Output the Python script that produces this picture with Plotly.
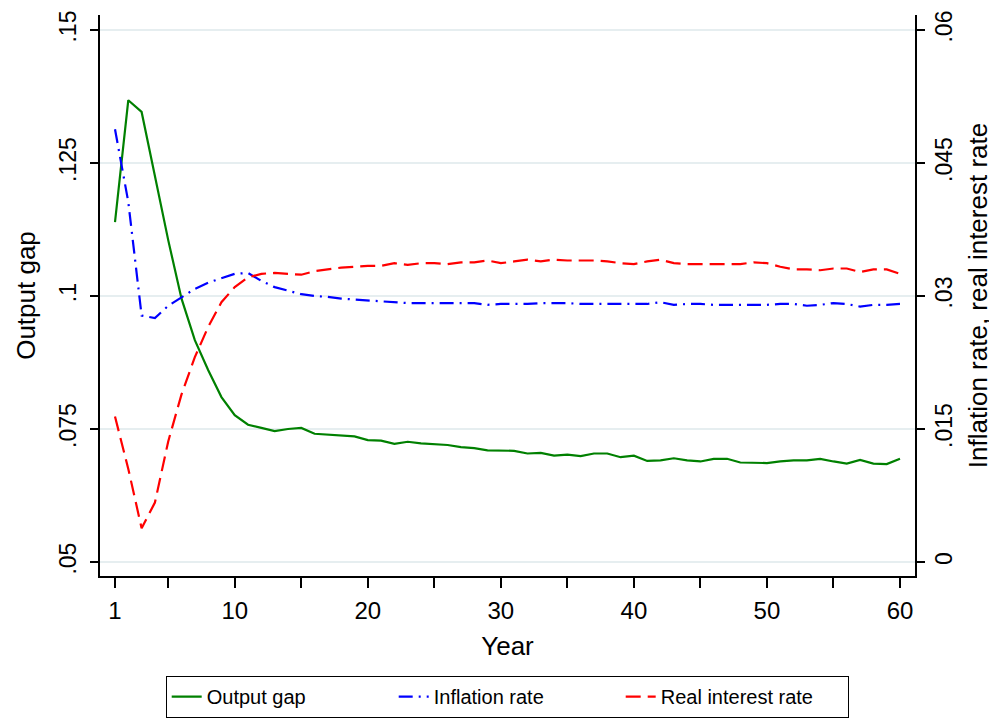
import plotly.graph_objects as go

years = list(range(1, 61))

output_gap = [
    .1139, .1368, .1346, .1222, .1105, .0995, .0917, .0861, .0810, .0776,
    .0758, .0752, .0746, .0750, .0752, .0741, .0739, .0737, .0736, .0729,
    .0728, .0722, .0726, .0723, .0721, .0720, .0716, .0714, .0710, .0710,
    .0709, .0704, .0705, .0700, .0702, .0699, .0704, .0704, .0697, .0700,
    .0690, .0691, .0695, .0691, .0689, .0694, .0694, .0687, .0686, .0686,
    .0689, .0691, .0691, .0694, .0689, .0685, .0692, .0685, .0684, .0694]

inflation_rate = [
    .0488, .0406, .0278, .0275, .0289, .0299, .0308, .0315, .0320, .0325,
    .0326, .0317, .0310, .0306, .0302, .0300, .0299, .0297, .0296, .0295,
    .0294, .0293, .0292, .0292, .0292, .0292, .0292, .0292, .0290, .0291,
    .0291, .0291, .0292, .0292, .0292, .0291, .0291, .0291, .0291, .0291,
    .0291, .0293, .0290, .0291, .0291, .0290, .0290, .0290, .0290, .0290,
    .0291, .0291, .0289, .0290, .0292, .0291, .0288, .0290, .0290, .0291]

real_interest_rate = [
    .0164, .0105, .0038, .0067, .0136, .0189, .0231, .0265, .0293, .0310,
    .0321, .0325, .0326, .0325, .0324, .0328, .0330, .0332, .0333, .0334,
    .0334, .0337, .0335, .0337, .0337, .0336, .0338, .0338, .0340, .0337,
    .0339, .0341, .0339, .0341, .0340, .0340, .0340, .0339, .0337, .0336,
    .0339, .0341, .0337, .0336, .0336, .0336, .0336, .0336, .0338, .0337,
    .0333, .0330, .0330, .0329, .0331, .0331, .0327, .0330, .0330, .0325]

x_tickvals = [1, 5, 10, 15, 20, 25, 30, 35, 40, 45, 50, 55, 60]
x_ticktext = ["1", "", "10", "", "20", "", "30", "", "40", "", "50", "", "60"]
left_tickvals = [.05, .075, .1, .125, .15]
left_ticktext = [".05", ".075", ".1", ".125", ".15"]
right_tickvals = [0, .015, .03, .045, .06]
right_ticktext = ["0", ".015", ".03", ".045", ".06"]

FONT = "Liberation Sans, Arial, sans-serif"

fig = go.Figure()
fig.add_trace(go.Scatter(x=years, y=output_gap, name="Output gap", mode="lines",
                         line=dict(color="#008000", width=2.2)))
fig.add_trace(go.Scatter(x=years, y=inflation_rate, name="Inflation rate", mode="lines",
                         yaxis="y2",
                         line=dict(color="#0000ff", width=2.2, dash="14px,6px,2px,6px")))
fig.add_trace(go.Scatter(x=years, y=real_interest_rate, name="Real interest rate", mode="lines",
                         yaxis="y2",
                         line=dict(color="#ff0000", width=2.2, dash="15px,7px")))

# the page body adds an 8px offset; the figure is taller than the window so the
# legend box runs off the bottom edge as in the reference
fig.update_layout(
    width=989, height=760,
    margin=dict(l=92, r=82, t=7, b=192),
    paper_bgcolor="white", plot_bgcolor="white",
    font=dict(family=FONT, color="black", size=22),
    showlegend=True,
    legend=dict(orientation="h", x=0.5, xanchor="center", y=-0.178, yanchor="top",
                bordercolor="black", borderwidth=1.2, font=dict(size=20, family=FONT),
                entrywidth=182, entrywidthmode="pixels"),
    xaxis=dict(range=[-0.127, 61.127], tickvals=x_tickvals, ticktext=x_ticktext,
               showline=True, linecolor="black", linewidth=1.5, mirror=False,
               ticks="outside", ticklen=10, tickwidth=1.5, tickcolor="black",
               showgrid=False, zeroline=False, tickfont=dict(size=24), automargin=False,
               ticklabelstandoff=2,
               title=dict(text="Year", font=dict(size=26), standoff=14)),
    yaxis=dict(range=[0.04737, 0.15282], tickvals=left_tickvals, ticktext=left_ticktext,
               showline=True, linecolor="black", linewidth=1.5,
               ticks="outside", ticklen=8, tickwidth=1.5, tickcolor="black",
               tickangle=-90, tickfont=dict(size=23), automargin=False,
               ticklabelstandoff=5,
               showgrid=True, gridcolor="#e6eef0", gridwidth=2, zeroline=False,
               title=dict(text="Output gap", font=dict(size=26), standoff=12)),
    yaxis2=dict(range=[-0.00158, 0.06169], tickvals=right_tickvals, ticktext=right_ticktext,
                overlaying="y", side="right",
                showline=True, linecolor="black", linewidth=1.5,
                ticks="outside", ticklen=8, tickwidth=1.5, tickcolor="black",
                tickangle=-90, tickfont=dict(size=23), automargin=False,
                showgrid=False, zeroline=False,
                title=dict(text="Inflation rate, real interest rate", font=dict(size=26), standoff=12)),
)

fig.write_html("out.html")
